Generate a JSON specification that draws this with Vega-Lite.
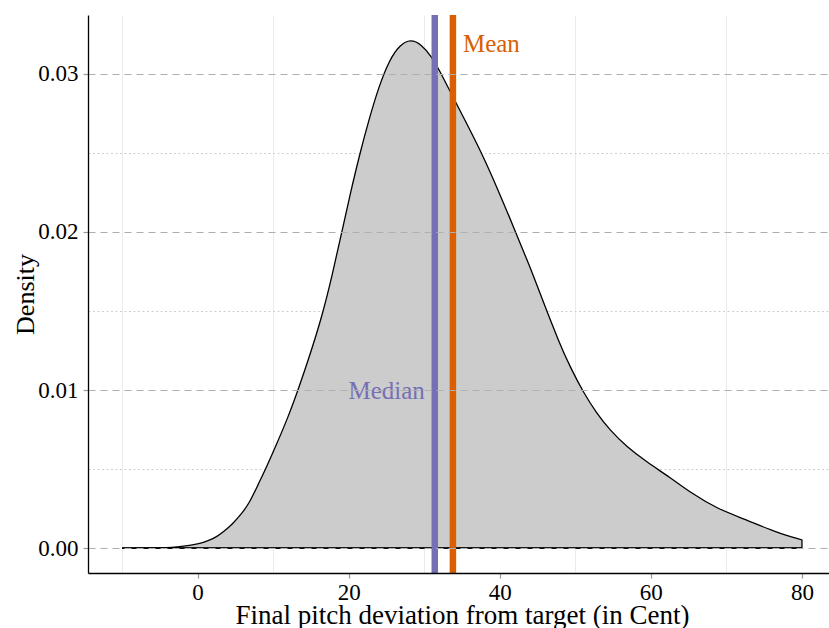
{
  "$schema": "https://vega.github.io/schema/vega-lite/v6.json",
  "width": 741,
  "height": 558,
  "autosize": {"type": "none"},
  "padding": {"left": 88, "top": 15, "right": 0, "bottom": 55},
  "background": "white",
  "config": {
    "view": {"stroke": null},
    "font": "Liberation Serif",
    "axis": {"labelFont": "Liberation Serif", "titleFont": "Liberation Serif", "labelColor": "black", "titleColor": "black", "titleFontWeight": "normal"}
  },
  "datasets": {
    "density": [
      {"x": -10, "y": 0}, {"x": -8, "y": 0.000001}, {"x": -6, "y": 0.000005}, {"x": -4, "y": 0.00002},
      {"x": -2.8, "y": 0.00006}, {"x": -1, "y": 0.00016}, {"x": 0.3, "y": 0.00028}, {"x": 1.5, "y": 0.00048},
      {"x": 2.5, "y": 0.0007}, {"x": 3.5, "y": 0.00105}, {"x": 4.7, "y": 0.00156}, {"x": 5.8, "y": 0.00215},
      {"x": 6.9, "y": 0.00288}, {"x": 8.0, "y": 0.0040}, {"x": 9.1, "y": 0.0051}, {"x": 10.4, "y": 0.0065},
      {"x": 12.0, "y": 0.0083}, {"x": 13.3, "y": 0.0100}, {"x": 14.8, "y": 0.0121}, {"x": 16.5, "y": 0.0147},
      {"x": 17.8, "y": 0.0172}, {"x": 19.0, "y": 0.0198}, {"x": 20.2, "y": 0.0224}, {"x": 21.5, "y": 0.0250},
      {"x": 22.8, "y": 0.0273}, {"x": 24.0, "y": 0.0292}, {"x": 25.4, "y": 0.0309}, {"x": 26.8, "y": 0.03185},
      {"x": 28.2, "y": 0.0322}, {"x": 29.6, "y": 0.03188}, {"x": 31.0, "y": 0.0311}, {"x": 32.1, "y": 0.03015},
      {"x": 33.8, "y": 0.02856}, {"x": 35.6, "y": 0.02688}, {"x": 37.4, "y": 0.0252}, {"x": 39.6, "y": 0.02287},
      {"x": 41.8, "y": 0.02034}, {"x": 44.0, "y": 0.0178}, {"x": 45.5, "y": 0.0159}, {"x": 47.9, "y": 0.01296},
      {"x": 49.3, "y": 0.01148}, {"x": 51.0, "y": 0.0099}, {"x": 52.8, "y": 0.00855}, {"x": 54.6, "y": 0.00745},
      {"x": 56.8, "y": 0.00641}, {"x": 59.4, "y": 0.00546}, {"x": 62.5, "y": 0.00448}, {"x": 65.6, "y": 0.00340},
      {"x": 68.7, "y": 0.00251}, {"x": 72.7, "y": 0.00177}, {"x": 76.6, "y": 0.00099}, {"x": 80.0, "y": 0.00051}
    ],
    "stats": [
      {"stat": "Median", "value": 31.4, "labelY": 0.00994},
      {"stat": "Mean", "value": 33.8, "labelY": 0.0319}
    ]
  },
  "resolve": {"axis": {"x": "independent", "y": "independent"}},
  "layer": [
    {
      "data": {"name": "density"},
      "mark": {"type": "area", "interpolate": "basis", "fill": "#CCCCCC", "stroke": "black", "strokeWidth": 1.3},
      "encoding": {
        "x": {
          "field": "x", "type": "quantitative",
          "scale": {"domain": [-14.5, 83.58], "nice": false, "zero": false},
          "axis": {
            "orient": "bottom", "values": [0, 20, 40, 60, 80], "grid": false, "zindex": 1,
            "domainColor": "black", "domainWidth": 1.3, "tickColor": "#999999", "tickSize": 5, "tickWidth": 1.2,
            "labelFontSize": 23, "labelPadding": 3, "labelFlush": false,
            "title": "Final pitch deviation from target (in Cent)", "titleFontSize": 27,
            "titleBaseline": "alphabetic", "titleY": 50, "titleX": 374
          }
        },
        "y": {
          "field": "y", "type": "quantitative",
          "scale": {"domain": [-0.00158, 0.03373], "nice": false, "zero": false},
          "axis": {
            "orient": "left", "values": [0, 0.01, 0.02, 0.03], "format": ".2f", "zindex": 1,
            "grid": true, "gridColor": "#AFAFAF", "gridDash": [7, 5], "gridWidth": 1.2,
            "domainColor": "black", "domainWidth": 1.3, "tickColor": "#999999", "tickSize": 5, "tickWidth": 1.2,
            "labelFontSize": 23, "labelPadding": 5, "labelFlush": false,
            "title": "Density", "titleFontSize": 26,
            "titleBaseline": "alphabetic", "titleX": -55, "titleY": 279
          }
        }
      }
    },
    {
      "data": {"name": "density"},
      "mark": {"type": "rule", "stroke": "black", "strokeWidth": 1.5},
      "encoding": {
        "x": {"aggregate": "min", "field": "x", "type": "quantitative", "scale": {"domain": [-14.5, 83.58], "nice": false, "zero": false}, "axis": null},
        "x2": {"aggregate": "max", "field": "x"},
        "y": {"datum": 0, "type": "quantitative", "scale": {"domain": [-0.00158, 0.03373], "nice": false, "zero": false}, "axis": null}
      }
    },
    {
      "data": {"name": "stats"},
      "mark": {"type": "rule", "strokeWidth": 6.5},
      "encoding": {
        "x": {
          "field": "value", "type": "quantitative",
          "scale": {"domain": [-14.5, 83.58], "nice": false, "zero": false},
          "axis": {
            "orient": "bottom", "values": [-10, 10, 30, 50, 70], "grid": true, "gridColor": "#EBEBEB", "gridWidth": 1,
            "labels": false, "ticks": false, "domain": false, "title": null
          }
        },
        "color": {"field": "stat", "type": "nominal", "scale": {"domain": ["Median", "Mean"], "range": ["#7570B3", "#D95F02"]}, "legend": null}
      }
    },
    {
      "data": {"name": "stats"},
      "transform": [{"filter": "datum.stat === 'Mean'"}],
      "mark": {"type": "text", "align": "left", "baseline": "middle", "dx": 10, "fontSize": 25, "font": "Liberation Serif"},
      "encoding": {
        "x": {"field": "value", "type": "quantitative", "scale": {"domain": [-14.5, 83.58], "nice": false, "zero": false}, "axis": null},
        "y": {
          "field": "labelY", "type": "quantitative",
          "scale": {"domain": [-0.00158, 0.03373], "nice": false, "zero": false},
          "axis": {
            "orient": "left", "values": [0.005, 0.015, 0.025], "grid": true, "gridColor": "#CFCFCF", "gridDash": [2, 2.5], "gridWidth": 1.2,
            "labels": false, "ticks": false, "domain": false, "title": null
          }
        },
        "text": {"field": "stat"},
        "color": {"field": "stat", "type": "nominal", "scale": {"domain": ["Median", "Mean"], "range": ["#7570B3", "#D95F02"]}, "legend": null}
      }
    },
    {
      "data": {"name": "stats"},
      "transform": [{"filter": "datum.stat === 'Median'"}],
      "mark": {"type": "text", "align": "right", "baseline": "middle", "dx": -10, "fontSize": 25, "font": "Liberation Serif"},
      "encoding": {
        "x": {"field": "value", "type": "quantitative", "scale": {"domain": [-14.5, 83.58], "nice": false, "zero": false}, "axis": null},
        "y": {"field": "labelY", "type": "quantitative", "scale": {"domain": [-0.00158, 0.03373], "nice": false, "zero": false}, "axis": null},
        "text": {"field": "stat"},
        "color": {"field": "stat", "type": "nominal", "scale": {"domain": ["Median", "Mean"], "range": ["#7570B3", "#D95F02"]}, "legend": null}
      }
    }
  ]
}
